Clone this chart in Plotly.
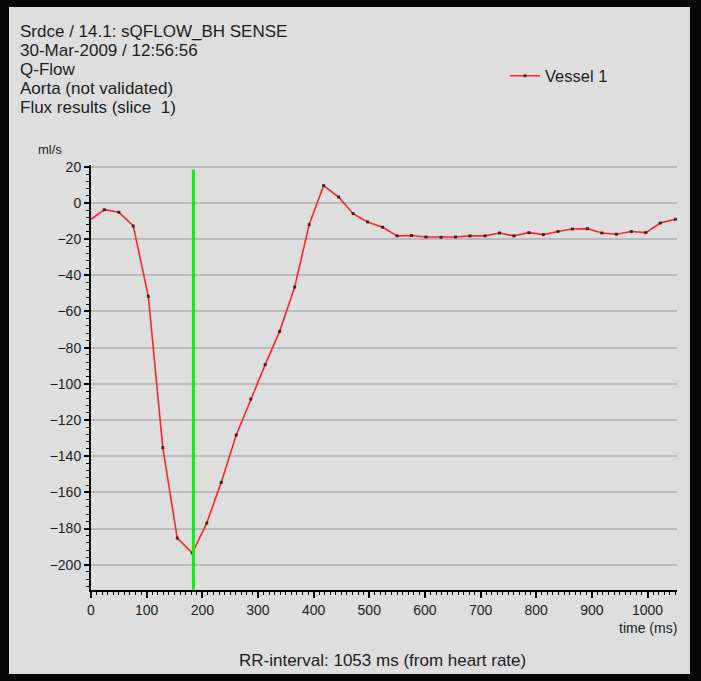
import plotly.graph_objects as go

# ---------------- data ----------------
header_lines = [
    "Srdce / 14.1: sQFLOW_BH SENSE",
    "30-Mar-2009 / 12:56:56",
    "Q-Flow",
    "Aorta (not validated)",
    "Flux results (slice\u00a0 1)",
]
series_name = "Vessel 1"
rr_interval_ms = 1053
footer_text = "RR-interval: 1053 ms (from heart rate)"
y_unit_label = "ml/s"
x_label = "time (ms)"

# sampled phases (ms) with their flow values (ml/s)
sample_times_ms = [24, 50, 76, 103, 129, 155, 182, 208, 234, 261,
                   287, 313, 339, 366, 392, 418, 445, 471, 497, 524,
                   550, 576, 602, 629, 655, 681, 708, 734, 760, 787,
                   813, 839, 865, 892, 918, 944, 971, 997, 1023, 1050]
sample_flow = [-3.7, -5.1, -12.7, -51.6, -135.3, -185.3, -193.6, -177.0, -154.5, -128.3,
               -108.4, -89.4, -71.0, -46.5, -12.0, 9.6, 3.3, -5.9, -10.5, -13.4,
               -18.2, -18.0, -18.8, -19.0, -18.8, -18.2, -18.2, -16.6, -18.2, -16.4,
               -17.5, -15.8, -14.4, -14.2, -16.6, -17.3, -15.8, -16.4, -11.1, -9.0]
# flow at the start / end of the RR interval (cyclic wrap)
edge_flow = -9.0

cursor_ms = 184
cursor_top = 18.5

y_range = [-214, 21]
x_range = [0, rr_interval_ms]

# ---------------- geometry helpers ----------------
W, H = 701, 681
PL, PR, PT, PB = 91, 677, 165, 590  # plot area in pixels


def px(x):
    return (x - PL) / (PR - PL)


def py(y):
    return (PB - y) / (PB - PT)


FONT = "Liberation Sans, Arial, sans-serif"
TXT = "#1c1c1c"
PANEL = "#dedede"
OUTER = "#060606"

times_all = [0] + sample_times_ms + [rr_interval_ms]
flow_all = [edge_flow] + sample_flow + [edge_flow]
sizes = [0] + [3] * len(sample_times_ms) + [0]

fig = go.Figure()
fig.add_trace(go.Scatter(
    x=times_all, y=flow_all, mode="lines+markers", name=series_name,
    line=dict(color="#ff2626", width=1.6),
    marker=dict(color="black", size=sizes, symbol="square", line=dict(width=0)),
))
fig.add_trace(go.Scatter(
    x=[cursor_ms, cursor_ms], y=[y_range[0], cursor_top], mode="lines",
    line=dict(color="#1ee61e", width=3), showlegend=False, hoverinfo="skip",
))

annotations = []
header_y = [32, 50.9, 69.8, 88.7, 107.6]
for txt, yy in zip(header_lines, header_y):
    annotations.append(dict(text=txt, x=px(18), y=py(yy), xref="paper", yref="paper",
                            xanchor="left", yanchor="middle", showarrow=False,
                            font=dict(size=17, color=TXT, family=FONT)))
annotations.append(dict(text=y_unit_label, x=px(36), y=py(149.5), xref="paper", yref="paper",
                        xanchor="left", yanchor="middle", showarrow=False,
                        font=dict(size=13, color=TXT, family=FONT)))
annotations.append(dict(text=x_label, x=px(679), y=py(627.5), xref="paper", yref="paper",
                        xanchor="right", yanchor="middle", showarrow=False,
                        font=dict(size=14, color=TXT, family=FONT)))
annotations.append(dict(text=footer_text, x=px(382), y=py(660), xref="paper", yref="paper",
                        xanchor="center", yanchor="middle", showarrow=False,
                        font=dict(size=17, color=TXT, family=FONT)))

fig.update_layout(
    width=W, height=H,
    margin=dict(l=PL, r=W - PR, t=PT, b=H - PB, pad=0),
    paper_bgcolor=OUTER,
    plot_bgcolor=PANEL,
    font=dict(family=FONT, color=TXT, size=14),
    showlegend=True,
    legend=dict(x=px(505), y=py(76), xanchor="left", yanchor="middle",
                bgcolor="rgba(0,0,0,0)", borderwidth=0,
                font=dict(size=16.5, color=TXT, family=FONT)),
    annotations=annotations,
    shapes=[dict(type="rect", xref="paper", yref="paper",
                 x0=px(9), x1=px(690), y0=py(674), y1=py(7),
                 fillcolor=PANEL, line=dict(width=0), layer="below")],
    xaxis=dict(range=x_range, tick0=0, dtick=100, showgrid=False, zeroline=False,
               showline=True, linecolor="black", linewidth=2,
               ticks="outside", ticklen=6, tickwidth=1.5, tickcolor="black",
               minor=dict(dtick=10, ticks="outside", ticklen=3, tickwidth=1, tickcolor="black",
                          showgrid=False),
               tickfont=dict(size=14, color=TXT, family=FONT)),
    yaxis=dict(range=y_range, tick0=0, dtick=20, showgrid=True, gridcolor="#bababa", gridwidth=1.5,
               zeroline=False, showline=True, linecolor="black", linewidth=2,
               ticks="outside", ticklen=5, tickwidth=1.5, tickcolor="black",
               minor=dict(dtick=4, ticks="outside", ticklen=3, tickwidth=1, tickcolor="black",
                          showgrid=False),
               tickfont=dict(size=14, color=TXT, family=FONT)),
)

fig.write_html(
    "out.html",
    config={"displayModeBar": False},
    post_script="document.body.style.margin='0px';document.body.style.background='%s';" % OUTER,
)
